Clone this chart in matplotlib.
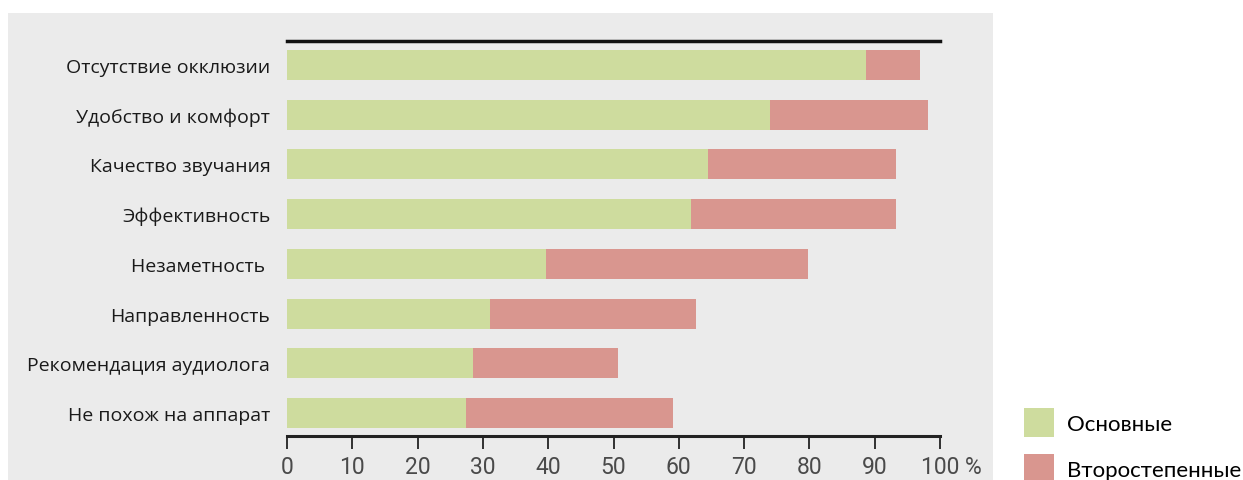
import matplotlib
matplotlib.use("Agg")
import matplotlib.pyplot as plt
import matplotlib.transforms as mtransforms
from matplotlib.patches import Rectangle, Patch

# survey: reasons for choosing the device, share of answers (%)
categories = [
    "Отсутствие окклюзии",
    "Удобство и комфорт",
    "Качество звучания",
    "Эффективность",
    "Незаметность ",
    "Направленность",
    "Рекомендация аудиолога",
    "Не похож на аппарат",
]
main_share = [88.7, 74.0, 64.5, 61.9, 39.7, 31.1, 28.5, 27.4]
minor_share = [8.2, 24.2, 28.8, 31.4, 40.1, 31.5, 22.2, 31.7]
ticks = [0, 10, 20, 30, 40, 50, 60, 70, 80, 90, 100]
tick_labels = ["0", "10", "20", "30", "40", "50", "60", "70", "80", "90", "100 %"]
legend_names = ["Основные", "Второстепенные"]

green = "#cedc9e"
red = "#d9968f"
panel = "#ebebeb"

plt.rcParams["font.family"] = ["Open Sans", "DejaVu Sans"]

fig = plt.figure(figsize=[12.43, 4.81], dpi=100)
fig.patches.append(Rectangle((8 / 1243, 0), 985 / 1243, 1 - 14 / 481,
                             transform=fig.transFigure, facecolor=panel,
                             edgecolor="none", zorder=-5))

ax = fig.add_axes([287 / 1243, 1 - 437 / 481, 653 / 1243, 395 / 481])
ax.set_facecolor("none")
ax.set_zorder(2)

y = list(range(len(categories)))
ax.barh(y, main_share, height=0.6, color=green, label=legend_names[0])
ax.barh(y, minor_share, left=main_share, height=0.6, color=red,
        label=legend_names[1])

ax.set_xlim(0, 100)
ax.set_ylim(len(categories) - 0.54, -0.48)

ax.set_yticks(y)
ax.set_yticklabels(categories, fontsize=14, color="#1a1a1a")
ax.tick_params(axis="y", length=0, pad=12)

ax.set_xticks(ticks)
ax.set_xticklabels(tick_labels, fontsize=16.5, color="#4a4a4a",
                   family=["Roboto", "DejaVu Sans"])
ax.tick_params(axis="x", direction="out", length=9, width=1.3,
               color="#222222", pad=5)
# keep "100" under its tick, the % sign hangs to the right
last = ax.get_xticklabels()[-1]
last.set_transform(last.get_transform() +
                   mtransforms.ScaledTranslation(8 / 72, 0, fig.dpi_scale_trans))

for s in ["left", "right"]:
    ax.spines[s].set_visible(False)
ax.spines["top"].set_linewidth(2.5)
ax.spines["top"].set_color("#111111")
ax.spines["bottom"].set_linewidth(2.2)
ax.spines["bottom"].set_color("#222222")

handles = [Patch(facecolor=green, edgecolor="none"),
           Patch(facecolor=red, edgecolor="none")]
leg = fig.legend(handles, legend_names, loc="upper left",
                 bbox_to_anchor=(1004 / 1243, 1 - 389 / 481), frameon=False,
                 prop={"family": "Lato", "size": 16},
                 handlelength=1.35, handleheight=1.6,
                 handletextpad=0.6, labelspacing=0.8)

fig.savefig("out.png", dpi=100)
